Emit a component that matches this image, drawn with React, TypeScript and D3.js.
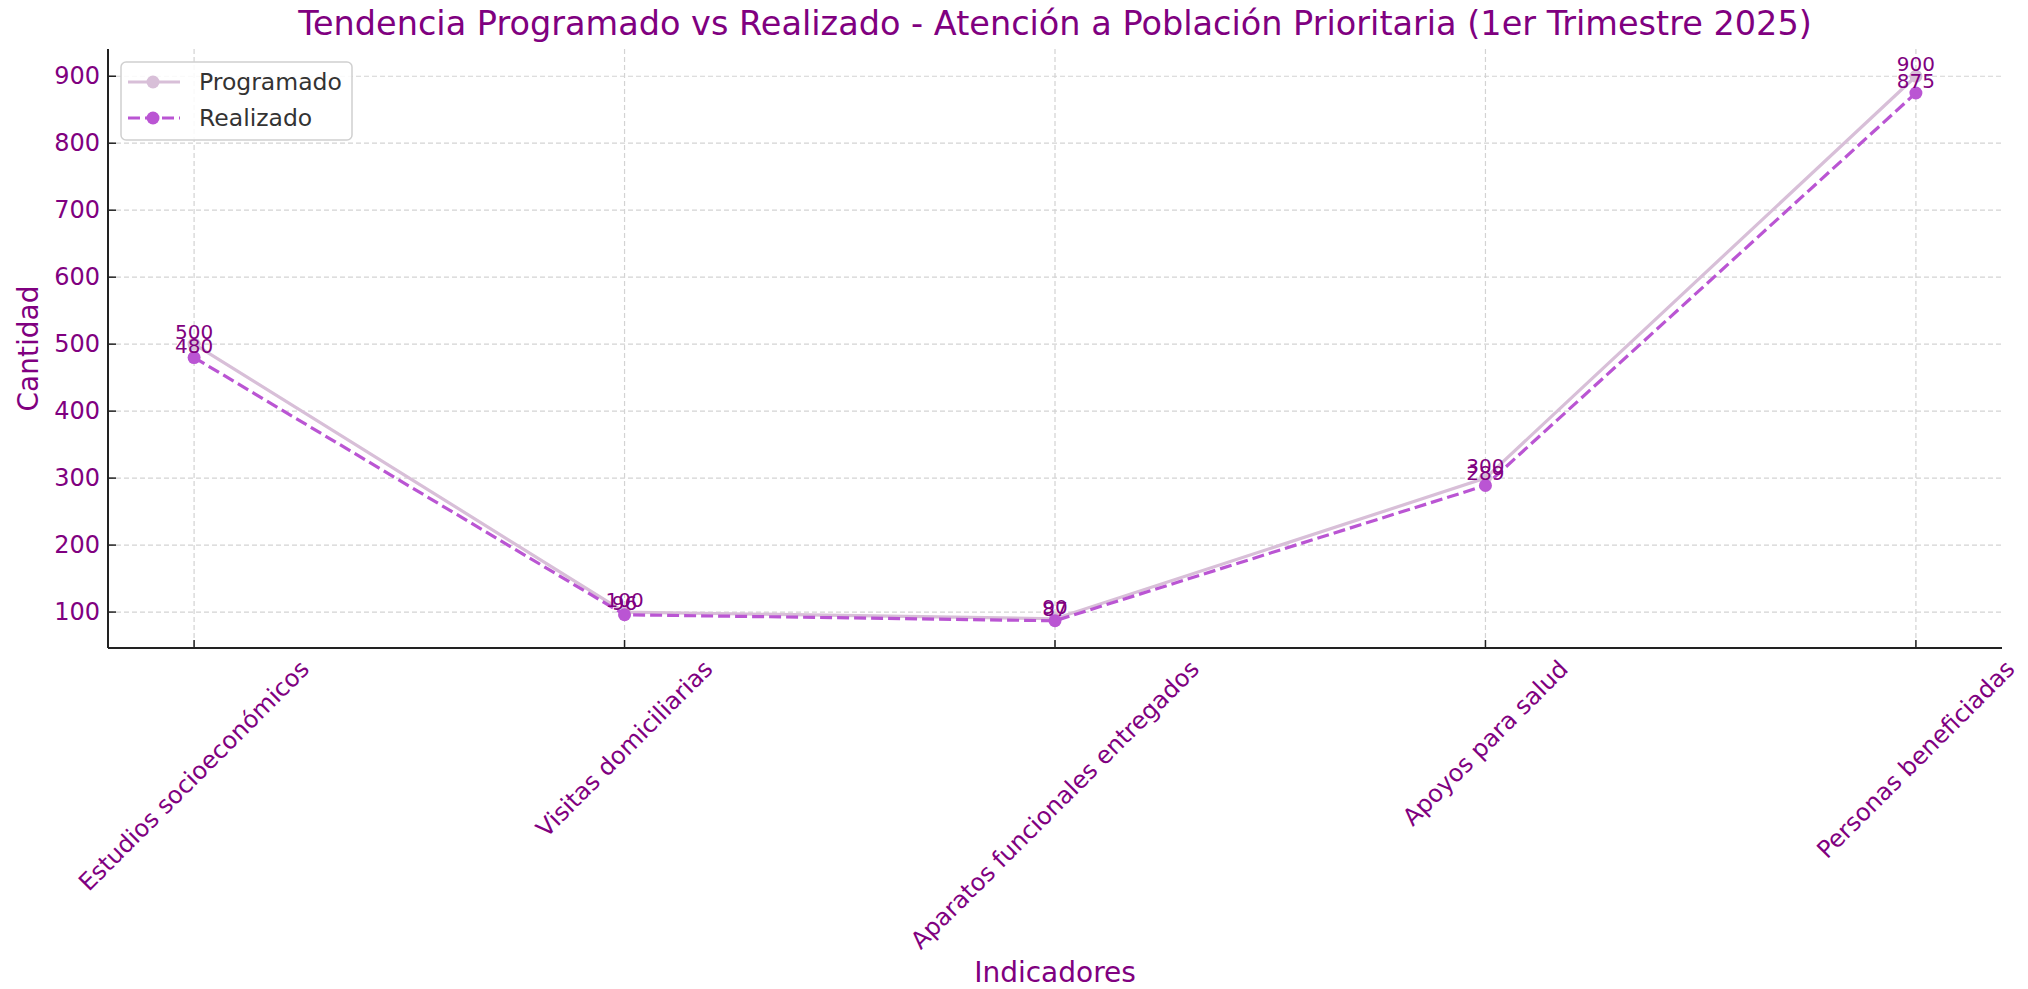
import React, { useEffect, useRef } from 'react';
import * as d3 from 'd3';

const categories = [
  'Estudios socioeconómicos',
  'Visitas domiciliarias',
  'Aparatos funcionales entregados',
  'Apoyos para salud',
  'Personas beneficiadas',
];
const programado = [500, 100, 90, 300, 900];
const realizado = [480, 96, 87, 289, 875];
const yTicks = [100, 200, 300, 400, 500, 600, 700, 800, 900];

const title = 'Tendencia Programado vs Realizado - Atención a Población Prioritaria (1er Trimestre 2025)';

const W = 2028;
const H = 989;
const FONT = '"DejaVu Sans", sans-serif';
const PURPLE = '#800080';
const C_PROG = '#D8BFD8';
const C_REAL = '#BA55D3';

const App = () => {
  const ref = useRef<SVGSVGElement | null>(null);

  useEffect(() => {
    const svg = d3.select(ref.current);
    svg.selectAll('*').remove();

    const m = { left: 108, right: 2002, top: 49, bottom: 648 };

    // matplotlib style 5% margins
    const all = programado.concat(realizado);
    const lo = d3.min(all) as number;
    const hi = d3.max(all) as number;
    const pad = (hi - lo) * 0.05;
    const y = d3.scaleLinear().domain([lo - pad, hi + pad]).range([m.bottom, m.top]);
    const x = d3.scaleLinear().domain([-0.2, categories.length - 1 + 0.2]).range([m.left, m.right]);

    svg.append('rect').attr('width', W).attr('height', H).attr('fill', '#fff');

    // grid
    const grid = svg.append('g').attr('stroke', '#d3d3d3').attr('stroke-width', 1.2).attr('stroke-dasharray', '5,3');
    yTicks.forEach(t => {
      grid.append('line').attr('x1', m.left).attr('x2', m.right).attr('y1', y(t)).attr('y2', y(t));
    });
    categories.forEach((_, i) => {
      grid.append('line').attr('x1', x(i)).attr('x2', x(i)).attr('y1', m.top).attr('y2', m.bottom);
    });

    // y ticks (inward)
    const yAxis = svg.append('g');
    yTicks.forEach(t => {
      yAxis.append('line').attr('x1', m.left).attr('x2', m.left + 8).attr('y1', y(t)).attr('y2', y(t))
        .attr('stroke', '#222').attr('stroke-width', 1.5);
      yAxis.append('text').attr('x', m.left - 8).attr('y', y(t)).attr('text-anchor', 'end')
        .attr('dominant-baseline', 'central').attr('font-family', FONT).attr('font-size', 24)
        .attr('fill', PURPLE).text(t);
    });

    // x ticks (inward) + rotated labels
    const xAxis = svg.append('g');
    categories.forEach((c, i) => {
      xAxis.append('line').attr('x1', x(i)).attr('x2', x(i)).attr('y1', m.bottom).attr('y2', m.bottom - 8)
        .attr('stroke', '#222').attr('stroke-width', 1.5);
      const t = xAxis.append('text').attr('text-anchor', 'middle').attr('dominant-baseline', 'central')
        .attr('font-family', FONT).attr('font-size', 24).attr('fill', PURPLE).text(c);
      const w = (t.node() as SVGTextElement).getComputedTextLength();
      const h = 24 * 1.16;
      const cy = m.bottom + 7 + (w + h) * Math.SQRT1_2 / 2;
      t.attr('transform', `translate(${x(i)},${cy}) rotate(-45)`);
    });

    // spines
    svg.append('line').attr('x1', m.left).attr('x2', m.left).attr('y1', m.top).attr('y2', m.bottom)
      .attr('stroke', '#222').attr('stroke-width', 2);
    svg.append('line').attr('x1', m.left).attr('x2', m.right).attr('y1', m.bottom).attr('y2', m.bottom)
      .attr('stroke', '#222').attr('stroke-width', 2);

    const line = d3.line<number>().x((_, i) => x(i)).y(d => y(d));

    // Programado
    svg.append('path').datum(programado).attr('fill', 'none').attr('stroke', C_PROG)
      .attr('stroke-width', 3.2).attr('d', line);
    svg.append('g').selectAll('circle').data(programado).join('circle')
      .attr('cx', (_, i) => x(i)).attr('cy', d => y(d)).attr('r', 6.5).attr('fill', C_PROG);

    // Realizado
    svg.append('path').datum(realizado).attr('fill', 'none').attr('stroke', C_REAL)
      .attr('stroke-width', 3.2).attr('stroke-dasharray', '12,5').attr('d', line);
    svg.append('g').selectAll('circle').data(realizado).join('circle')
      .attr('cx', (_, i) => x(i)).attr('cy', d => y(d)).attr('r', 6.5).attr('fill', C_REAL);

    // value labels
    const lbl = svg.append('g').attr('font-family', FONT).attr('font-size', 20).attr('fill', PURPLE)
      .attr('text-anchor', 'middle');
    programado.forEach((v, i) => {
      lbl.append('text').attr('x', x(i)).attr('y', y(v) - 5).text(v);
    });
    realizado.forEach((v, i) => {
      lbl.append('text').attr('x', x(i)).attr('y', y(v) - 5).text(v);
    });

    // title and axis labels
    svg.append('text').attr('x', (m.left + m.right) / 2).attr('y', 35).attr('text-anchor', 'middle')
      .attr('font-family', FONT).attr('font-size', 33.5).attr('fill', PURPLE).text(title);
    svg.append('text').attr('x', (m.left + m.right) / 2).attr('y', 982).attr('text-anchor', 'middle')
      .attr('font-family', FONT).attr('font-size', 28).attr('fill', PURPLE).text('Indicadores');
    svg.append('text').attr('transform', `translate(38,${(m.top + m.bottom) / 2}) rotate(-90)`)
      .attr('text-anchor', 'middle').attr('font-family', FONT).attr('font-size', 28)
      .attr('fill', PURPLE).text('Cantidad');

    // legend
    const lg = svg.append('g').attr('transform', 'translate(121,62)');
    lg.append('rect').attr('width', 231).attr('height', 78).attr('rx', 5)
      .attr('fill', 'rgba(255,255,255,0.85)').attr('stroke', '#d0d0d0').attr('stroke-width', 1.5);
    const entries = [
      { name: 'Programado', color: C_PROG, dash: null },
      { name: 'Realizado', color: C_REAL, dash: '12,5' },
    ];
    entries.forEach((e, i) => {
      const cy = 20 + i * 36;
      lg.append('line').attr('x1', 7).attr('x2', 59).attr('y1', cy).attr('y2', cy)
        .attr('stroke', e.color).attr('stroke-width', 3.2).attr('stroke-dasharray', e.dash);
      lg.append('circle').attr('cx', 32).attr('cy', cy).attr('r', 6.5).attr('fill', e.color);
      lg.append('text').attr('x', 78).attr('y', cy).attr('dominant-baseline', 'central')
        .attr('font-family', FONT).attr('font-size', 23.5).attr('fill', '#333').text(e.name);
    });
  }, []);

  return (
    <svg ref={ref} width={W} height={H} style={{ position: 'absolute', left: 0, top: 0, display: 'block' }} />
  );
};

export default App;
